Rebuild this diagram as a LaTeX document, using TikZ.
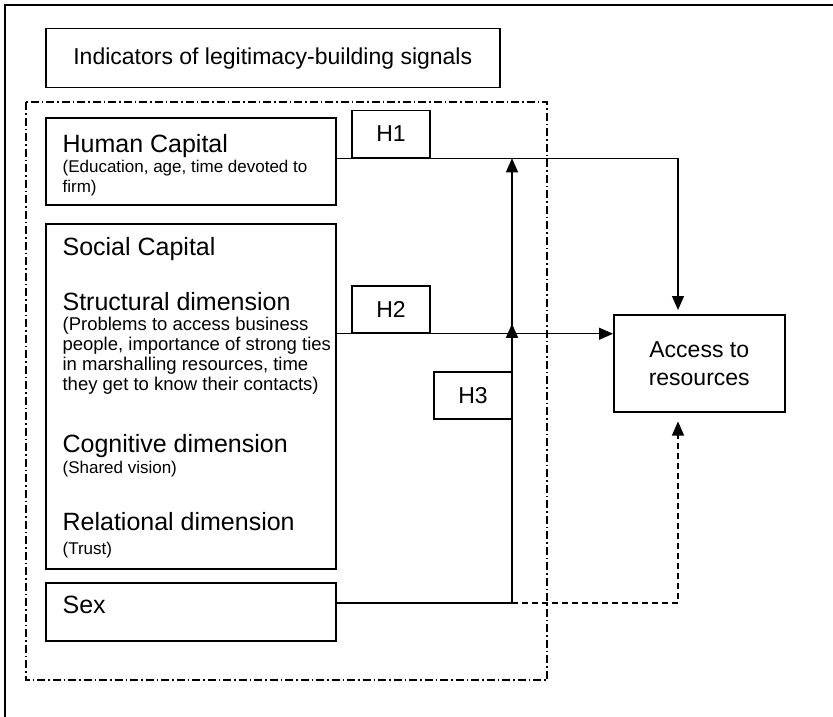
\documentclass[tikz,border=0pt]{standalone}
\usepackage{fontspec}
\setmainfont{Liberation Sans}
\usetikzlibrary{arrows.meta,calc,positioning}

\begin{document}
\begin{tikzpicture}[x=1pt,y=-1pt,>={Triangle[length=14pt,width=12pt]},
                    line width=1.2pt]
  \tikzstyle{box}=[rectangle,draw=black,line width=1.5pt,inner sep=0pt,anchor=north west]
  \tikzstyle{hyp}=[rectangle,draw=black,line width=1.5pt,minimum width=78pt,minimum height=47pt,font=\fontsize{23}{28}\selectfont]
  \tikzstyle{head}=[anchor=base west,inner sep=0pt,font=\fontsize{25}{30}\selectfont]
  \tikzstyle{note}=[anchor=base west,inner sep=0pt,font=\fontsize{17}{20}\selectfont]

  \useasboundingbox (0,0) rectangle (833,717);
  % frame, cut by the page on two sides
  \draw[line width=2pt] (5,5) rectangle (850,740);

  \node[box,minimum width=454pt,minimum height=59pt,font=\fontsize{23}{28}\selectfont] (T) at (45,28) {Indicators of legitimacy-building signals};
  \draw[dash pattern=on 8pt off 3pt on 1.5pt off 3pt] (26,102) rectangle (547,680);

  \node[box,minimum width=290pt,minimum height=87pt] (HC) at (45,117) {};
  \node[box,minimum width=290pt,minimum height=345pt] (SC) at (45,223) {};
  \node[box,minimum width=290pt,minimum height=58pt] (SX) at (45,582) {};
  \node[box,minimum width=171pt,minimum height=97pt,align=center,font=\fontsize{23}{28}\selectfont] (AR) at (613,314) {Access to\\resources};

  \node[hyp] (H1) at (391,134) {H1};
  \node[hyp] (H2) at (391,309.5) {H2};
  \node[hyp] (H3) at (473,395.5) {H3};

  \node[head] (hct) at (62,152) {Human Capital};
  \node[note] (hcn1) at (62,172) {(Education, age, time devoted to};
  \node[note] (hcn2) at (62,192) {firm)};
  \node[head] (sct) at (62,255) {Social Capital};
  \node[head] (sdt) at (62,310) {Structural dimension};
  \foreach \txt [count=\i] in {{(Problems to access business},{people, importance of strong ties},
      {in marshalling resources, time},{they get to know their contacts)}}
    \node[note,font=\fontsize{18.5}{20}\selectfont] (sdn\i) at (62,310+20*\i) {\txt};
  \node[head] (cdt) at (62,452) {Cognitive dimension};
  \node[note] (cdn) at (62,473) {(Shared vision)};
  \node[head] (rdt) at (62,530) {Relational dimension};
  \node[note] (rdn) at (62,554) {(Trust)};
  \node[head] (sxt) at (62,613) {Sex};

  \coordinate (J) at (512,603);
  \coordinate (K) at (678,603);

  \draw[->,shorten >=4pt] (HC.east |- H1.south) -| (AR.north -| K);
  \draw[->] (SC.east |- H2.south) -- (AR.west |- H2.south);
  \draw (SX.east |- J) -- (J);
  \draw[->] (J) -- ($(J |- H2.south)+(0,-10)$);
  \draw[->] (J |- H2.south) -- (J |- H1.south);
  \draw[->,dash pattern=on 6pt off 4pt,shorten >=9pt] (J) -- (K) -- (K |- AR.south);
\end{tikzpicture}
\end{document}
